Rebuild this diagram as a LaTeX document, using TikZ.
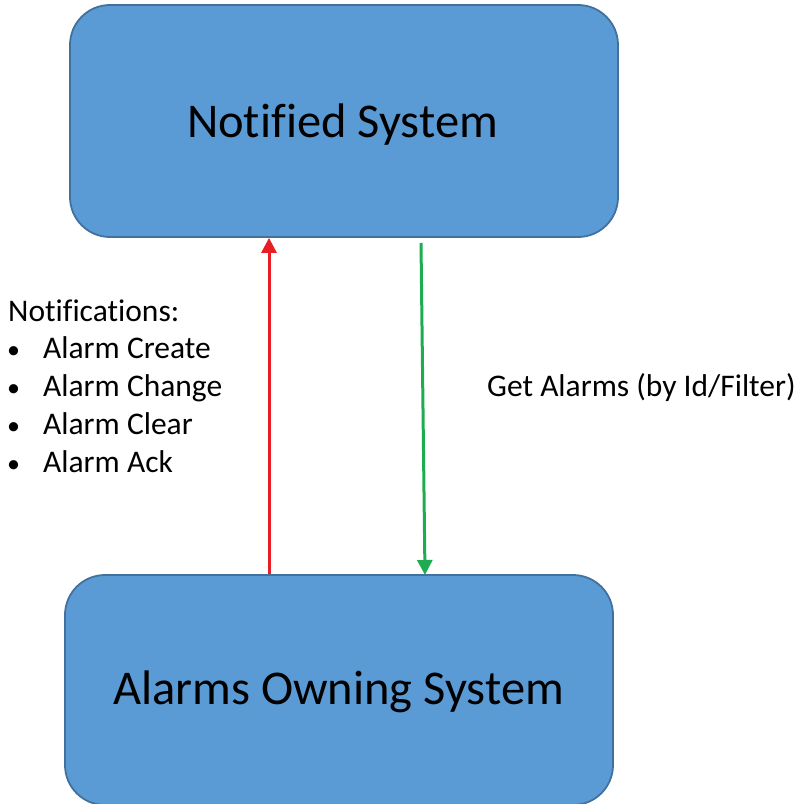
\documentclass[tikz,border=0pt]{standalone}
\usepackage{fontspec}
\setmainfont{Carlito}[Ligatures=NoCommon]
\usetikzlibrary{arrows.meta}
\definecolor{boxfill}{RGB}{91,155,213}
\definecolor{boxline}{RGB}{65,113,156}
\definecolor{redarrow}{RGB}{232,30,36}
\definecolor{greenarrow}{RGB}{30,172,80}
\tikzset{
  sysbox/.style={draw=boxline, line width=1.8bp, fill=boxfill, rounded corners=40bp,
    minimum width=548bp, minimum height=232bp, inner sep=0pt},
  systext/.style={inner sep=0pt, anchor=base, font=\fontsize{48.5bp}{56bp}\selectfont, text=black},
  lbl/.style={inner sep=0pt, font=\fontsize{31.5bp}{37.75bp}\selectfont, text=black, align=left},
  conn/.style={line width=3bp, -{Triangle[width=15bp,length=15bp]}}
}
\newcommand{\bul}{\makebox[35bp][l]{\hspace{-1bp}\fontsize{26bp}{26bp}\selectfont•}}
\begin{document}
\begin{tikzpicture}[x=1bp,y=-1bp]
\useasboundingbox (0,0) rectangle (801,804);
\node[sysbox] (top) at (344,121) {};
\node[sysbox, minimum height=230bp] (bot) at (339,690) {};
\node[systext] (toptext) at ([xshift=-1.5bp,yshift=-16bp]top.center) {Notified System};
\node[systext] (bottext) at ([xshift=-0.5bp,yshift=-14bp]bot.center) {Alarms Owning System};
\coordinate (gtop) at (421,243);
\coordinate (gbot) at (425,575);
\coordinate (rx) at (269,0);
\draw[conn, redarrow] (bot.north -| rx) -- (top.south -| rx);
\draw[conn, greenarrow] (gtop) -- (gbot);
\node[lbl, anchor=base west] (notes) at (8,472) {Notifications:\\
\bul Alarm Create\\
\bul Alarm Change\\
\bul Alarm Clear\\
\bul Alarm Ack};
\node[lbl, anchor=base west] (get) at (487,396) {Get Alarms (by Id/Filter)};
\end{tikzpicture}
\end{document}
